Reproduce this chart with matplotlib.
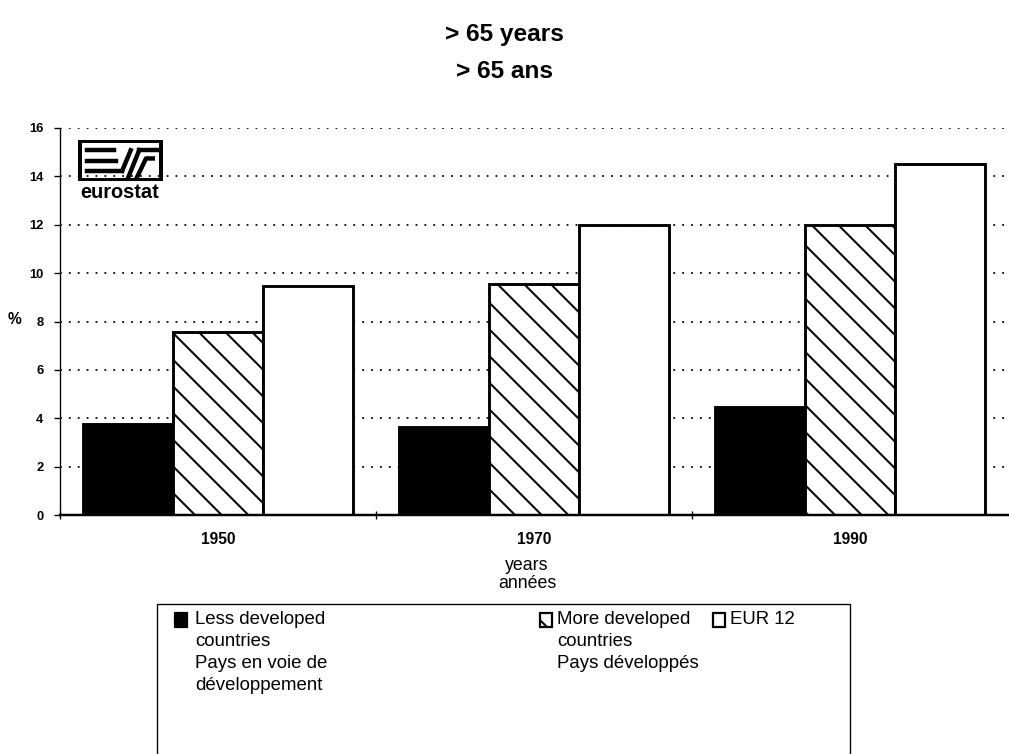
import matplotlib.pyplot as plt
import numpy as np
from matplotlib.patches import Rectangle

# data
years = ['1950', '1970', '1990']
less_developed = [3.75, 3.65, 4.45]
more_developed = [7.55, 9.55, 12.0]
eur12 = [9.45, 12.0, 14.5]
series_labels = ['Less developed\ncountries\nPays en voie de\ndéveloppement',
                 'More developed\ncountries\nPays développés',
                 'EUR 12']
y_ticks = [0, 2, 4, 6, 8, 10, 12, 14, 16]

plt.rcParams['font.family'] = ['Liberation Sans', 'DejaVu Sans']
plt.rcParams['hatch.linewidth'] = 0.9

W, H = 1009, 754
fig = plt.figure(figsize=(W / 160, H / 160), dpi=160)

def fx(px):
    return px / W

def fy(py):
    return 1 - py / H

ax = fig.add_axes([fx(60), fy(515), fx(1008) - fx(60), fy(128) - fy(515)])

x = np.arange(len(years))
width = 0.285
series = [less_developed, more_developed, eur12]
faces = ['black', 'white', 'white']
hatches = [None, '\\\\', None]
offsets = [-width, 0, width]

for vals, fc, h, off in zip(series, faces, hatches, offsets):
    ax.bar(x + off, vals, width, color=fc, hatch=h, edgecolor='black',
           linewidth=1.3, zorder=3)

ax.set_xlim(-0.5, 2.5)
ax.set_ylim(0, 16)
ax.set_yticks(y_ticks)
ax.set_yticklabels([str(v) for v in y_ticks], fontsize=5.8, fontweight='bold')
ax.set_xticks(x)
ax.set_xticklabels(years, fontsize=7.0, fontweight='bold')
ax.set_xticks([-0.5, 0.5, 1.5], minor=True)
ax.tick_params(axis='x', which='major', length=0, pad=7.5)
ax.tick_params(axis='x', which='minor', direction='inout', length=4, width=0.6)
ax.tick_params(axis='y', direction='out', length=2.5, width=0.6, pad=5)

for v in y_ticks[1:]:
    ax.axhline(v, color='black', linewidth=0.8, linestyle=(0, (1, 4)), zorder=1)

for s in ['top', 'right']:
    ax.spines[s].set_visible(False)
ax.spines['left'].set_linewidth(0.6)
ax.spines['bottom'].set_linewidth(1.1)
ax.spines['bottom'].set_zorder(4)

# titles and axis texts
fig.text(0.5, fy(35), '> 65 years', ha='center', va='center', fontsize=11, fontweight='bold')
fig.text(0.5, fy(71), '> 65 ans', ha='center', va='center', fontsize=11, fontweight='bold')
fig.text(fx(15), fy(320), '%', ha='center', va='center', fontsize=7, fontweight='bold')
fig.text(fx(527), fy(566), 'years', ha='center', va='center', fontsize=8)
fig.text(fx(527), fy(583), 'années', ha='center', va='center', fontsize=8)

# eurostat logo
logo = fig.add_axes([fx(78), fy(181), fx(163) - fx(78), fy(140) - fy(181)])
logo.set_xlim(0, 1)
logo.set_ylim(0, 1)
logo.axis('off')
logo.add_patch(Rectangle((0.02, 0.03), 0.96, 0.94, fill=False, lw=1.8, edgecolor='black'))
lw = 2.0
logo.plot([0.1, 0.42], [0.75, 0.75], color='black', lw=lw)
logo.plot([0.1, 0.45], [0.5, 0.5], color='black', lw=lw)
logo.plot([0.1, 0.52], [0.25, 0.25], color='black', lw=lw)
logo.plot([0.52, 0.62], [0.25, 0.75], color='black', lw=lw)
logo.plot([0.58, 0.72], [0.03, 0.75], color='black', lw=lw)
logo.plot([0.72, 0.98], [0.75, 0.75], color='black', lw=lw)
logo.plot([0.68, 0.80, 0.88], [0.03, 0.55, 0.55], color='black', lw=lw)
fig.text(fx(120), fy(192), 'eurostat', ha='center', va='center', fontsize=9, fontweight='bold')

# legend box
fig.patches.append(Rectangle((fx(157), fy(770)), fx(850) - fx(157), fy(604) - fy(770),
                             transform=fig.transFigure, fill=False, lw=0.6,
                             edgecolor='black', clip_on=False))
swatch_x = [175, 540, 713]
text_x = [195, 557, 730]
for fc, h, lab, sx, tx in zip(faces, hatches, series_labels, swatch_x, text_x):
    fig.patches.append(Rectangle((fx(sx), fy(627)), fx(12), fy(613) - fy(627),
                                 transform=fig.transFigure, facecolor=fc, hatch=h,
                                 edgecolor='black', lw=1.0))
    fig.text(fx(tx), fy(611), lab, ha='left', va='top', fontsize=8.4, linespacing=1.38)

fig.savefig('out.png', dpi=160)
